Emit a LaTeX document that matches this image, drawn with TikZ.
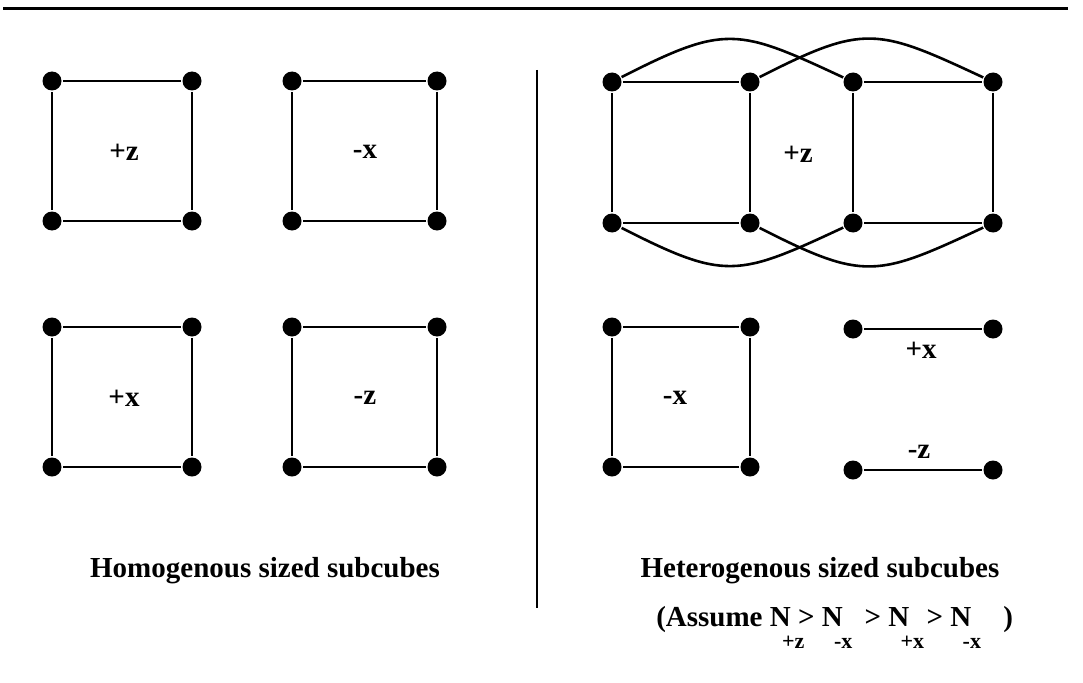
\documentclass[tikz,border=0pt]{standalone}
\usepackage{fontspec}
\setmainfont{Liberation Serif}
\newcommand{\lowsub}[1]{\rlap{\hspace{-0.3em}\raisebox{-0.78em}{\fontsize{22}{22}\selectfont #1}}}
\begin{document}
\begin{tikzpicture}[x=1pt, y=-1pt, line width=2.6pt,
  dot/.style={circle, fill=black, inner sep=0pt, minimum size=19pt},
  lbl/.style={font=\bfseries\fontsize{29}{32}\selectfont, inner sep=0pt},
  capt/.style={font=\bfseries\fontsize{29}{32}\selectfont, anchor=base, inner sep=0pt}]
  \useasboundingbox (0,0) rectangle (1083,682);
  % top rule and divider
  \coordinate (ruleL) at (3,9);
  \coordinate (ruleR) at (1068,9);
  \draw[line width=3pt] (ruleL) -- (ruleR);
  \coordinate (divT) at (537,70);
  \coordinate (divB) at (537,608);
  \draw (divT) -- (divB);
  % plain square subcubes
  \foreach \nm/\x/\y/\w/\h/\t/\dx in {sqa/52/81/140/140/+z/72, sqb/292/81/145/140/-x/73,
      sqc/52/327/140/140/+x/72, sqd/292/327/145/140/-z/73, sqe/612/327/138/140/-x/63} {
    \node[dot] (\nm-tl) at (\x,\y) {};
    \node[dot] (\nm-tr) at ({\x+\w},\y) {};
    \node[dot] (\nm-bl) at (\x,{\y+\h}) {};
    \node[dot] (\nm-br) at ({\x+\w},{\y+\h}) {};
    \draw (\nm-tl) -- (\nm-tr) -- (\nm-br) -- (\nm-bl) -- (\nm-tl);
    \node[lbl] (\nm-lab) at ({\x+\dx},{\y+71}) {\t};
  }
  % the +z subcube built of two squares
  \node[dot] (h1) at (612,82) {};
  \node[dot] (h2) at (750,82) {};
  \node[dot] (h3) at (853,82) {};
  \node[dot] (h4) at (993,82) {};
  \node[dot] (b1) at (612,223) {};
  \node[dot] (b2) at (750,223) {};
  \node[dot] (b3) at (853,223) {};
  \node[dot] (b4) at (993,223) {};
  \draw (h1) -- (h2) -- (b2) -- (b1) -- (h1);
  \draw (h3) -- (h4) -- (b4) -- (b3) -- (h3);
  \draw (h1) to[out=27, in=155, looseness=1.35] (h3);
  \draw (h2) to[out=27, in=155, looseness=1.35] (h4);
  \draw (b1) to[out=-27, in=-155, looseness=1.35] (b3);
  \draw (b2) to[out=-27, in=-155, looseness=1.35] (b4);
  \node[lbl] (hz) at (798,154) {+z};
  % single edges
  \node[dot] (e1) at (853,329) {};
  \node[dot] (e2) at (993,329) {};
  \node[dot] (e3) at (853,470) {};
  \node[dot] (e4) at (993,470) {};
  \draw (e1) -- (e2);
  \draw (e3) -- (e4);
  \node[lbl] (ex) at (921,350) {+x};
  \node[lbl] (ez) at (919,452) {-z};
  % captions
  \node[capt] (homo) at (265,577) {Homogenous sized subcubes};
  \node[capt] (hetero) at (820,577) {Heterogenous sized subcubes};
  \node[capt, anchor=base west] (assume) at (655,626)
    {(Assume N\lowsub{+z}\hspace{0.25em}> N\lowsub{-x}\hspace{0.75em}> N\lowsub{+x}\hspace{0.6em}> N\lowsub{-x}\hspace{1.1em})};
\end{tikzpicture}
\end{document}
